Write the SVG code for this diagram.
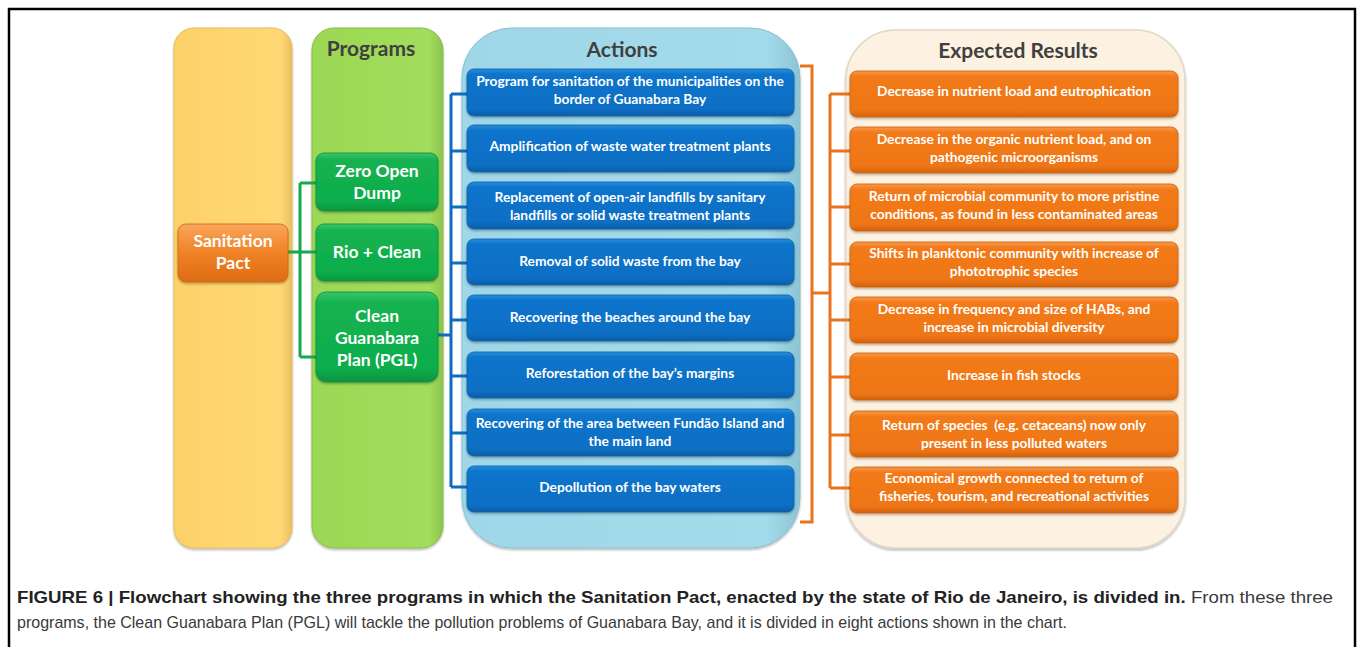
<svg xmlns="http://www.w3.org/2000/svg" width="1357" height="647" viewBox="0 0 1357 647">
<style>
.title{font-family:Lato,"Open Sans",sans-serif;font-weight:bold;font-size:21px;fill:#404040;text-anchor:middle}
.prog{font-family:Lato,"Open Sans",sans-serif;font-weight:bold;font-size:17.5px;fill:#ffffff;text-anchor:middle}
.lbl{font-family:Lato,"Open Sans",sans-serif;font-weight:bold;font-size:13.8px;fill:#ffffff;text-anchor:middle}
.cap{font-family:"Liberation Sans",Arial,sans-serif;font-size:17px;fill:#3a3a3a}
.capb{font-weight:bold;fill:#222222}
.act{fill:url(#gBlue);stroke:#0a5fa8;stroke-width:0.8}
.res{fill:url(#gOrange);stroke:#c95f10;stroke-width:0.8}
.grn{fill:url(#gGreen);stroke:#0d8f3c;stroke-width:0.8}
.cb{fill:none;stroke:#0b6cc0;stroke-width:3}
.cg{fill:none;stroke:#17a84a;stroke-width:3}
.co{fill:none;stroke:#e8731c;stroke-width:3}
</style>
<defs>
<linearGradient id="gBlue" x1="0" y1="0" x2="0" y2="1">
<stop offset="0" stop-color="#2b8ddb"/><stop offset="0.12" stop-color="#0a74cb"/><stop offset="0.85" stop-color="#0a6fc4"/><stop offset="1" stop-color="#085ca6"/>
</linearGradient>
<linearGradient id="gOrange" x1="0" y1="0" x2="0" y2="1">
<stop offset="0" stop-color="#f89a4a"/><stop offset="0.12" stop-color="#f27a1a"/><stop offset="0.85" stop-color="#ef7615"/><stop offset="1" stop-color="#d4620e"/>
</linearGradient>
<linearGradient id="gGreen" x1="0" y1="0" x2="0" y2="1">
<stop offset="0" stop-color="#3cc46a"/><stop offset="0.12" stop-color="#13b250"/><stop offset="0.85" stop-color="#10ad4c"/><stop offset="1" stop-color="#0c9440"/>
</linearGradient>
<linearGradient id="gPact" x1="0" y1="0" x2="0" y2="1">
<stop offset="0" stop-color="#f9a55a"/><stop offset="0.5" stop-color="#f08226"/><stop offset="1" stop-color="#dd6c12"/>
</linearGradient>
<linearGradient id="gYel" x1="0" y1="0" x2="1" y2="0">
<stop offset="0" stop-color="#fdd16a"/><stop offset="0.9" stop-color="#ffd874"/><stop offset="1" stop-color="#e9c062"/>
</linearGradient>
<linearGradient id="gLime" x1="0" y1="0" x2="1" y2="0">
<stop offset="0" stop-color="#9cd855"/><stop offset="0.9" stop-color="#a2dc5c"/><stop offset="1" stop-color="#8cc44c"/>
</linearGradient>
<linearGradient id="gSky" x1="0" y1="0" x2="1" y2="0">
<stop offset="0" stop-color="#9fd7e8"/><stop offset="0.9" stop-color="#a3dbeb"/><stop offset="1" stop-color="#8cc4d4"/>
</linearGradient>
<filter id="sh" x="-10%" y="-10%" width="120%" height="130%">
<feDropShadow dx="0" dy="1.5" stdDeviation="1.2" flood-color="#000" flood-opacity="0.3"/>
</filter>
</defs>
<rect x="9" y="9" width="1346" height="660" fill="#ffffff" stroke="#000000" stroke-width="2.5"/>

<g id="col-pact"><rect x="174" y="28" width="118" height="520" rx="20" fill="url(#gYel)" stroke="#e2bd5e" stroke-width="1" filter="url(#sh)"/></g>
<g id="col-programs"><rect x="312" y="28" width="131" height="520" rx="22" fill="url(#gLime)" stroke="#86bd48" stroke-width="1" filter="url(#sh)"/>
<text class="title" x="371" y="56">Programs</text></g>
<g id="col-actions"><rect x="462" y="28" width="338" height="520" rx="50" fill="url(#gSky)" stroke="#86c1d3" stroke-width="1" filter="url(#sh)"/>
<text class="title" x="622" y="57">Actions</text></g>
<g id="col-results"><rect x="846" y="30" width="339" height="518" rx="50" fill="#fdf1e1" stroke="#e3d8c8" stroke-width="1.5" filter="url(#sh)"/>
<text class="title" x="1018" y="58">Expected Results</text></g>

<g id="connectors">
<path class="cg" d="M288,252 H316 M300,183 V357 M300,183 H316 M300,357 H316"/>
<path class="cb" d="M438,335 H451 M451,94 V487 M451,94 H467 M451,151 H467 M451,207 H467 M451,263 H467 M451,320 H467 M451,376 H467 M451,433 H467 M451,487 H467"/>
<path class="co" d="M800,66 H812 V522 H800 M812,293 H830 M830,94 V488 M830,94 H850 M830,151 H850 M830,207 H850 M830,264 H850 M830,320 H850 M830,377 H850 M830,435 H850 M830,488 H850"/>
</g>

<g id="n-pact"><rect x="178" y="224" width="110" height="58" rx="8" fill="url(#gPact)" stroke="#d06610" stroke-width="0.8" filter="url(#sh)"/>
<text class="prog" x="233" y="247">Sanitation</text><text class="prog" x="233" y="269">Pact</text></g>

<g id="n-zero"><rect class="grn" x="316" y="153" width="122" height="58" rx="8" filter="url(#sh)"/>
<text class="prog" x="377" y="177">Zero Open</text><text class="prog" x="377" y="199">Dump</text></g>
<g id="n-rio"><rect class="grn" x="316" y="224" width="122" height="57" rx="8" filter="url(#sh)"/>
<text class="prog" x="377" y="258">Rio + Clean</text></g>
<g id="n-pgl"><rect class="grn" x="316" y="292" width="122" height="90" rx="10" filter="url(#sh)"/>
<text class="prog" x="377" y="322">Clean</text><text class="prog" x="377" y="344">Guanabara</text><text class="prog" x="377" y="366">Plan (PGL)</text></g>

<g id="a1"><rect class="act" x="467" y="69" width="327" height="47" rx="7" filter="url(#sh)"/>
<text class="lbl" x="630" y="86">Program for sanitation of the municipalities on the</text><text class="lbl" x="630" y="104">border of Guanabara Bay</text></g>
<g id="a2"><rect class="act" x="467" y="125" width="327" height="47" rx="7" filter="url(#sh)"/>
<text class="lbl" x="630" y="151">Amplification of waste water treatment plants</text></g>
<g id="a3"><rect class="act" x="467" y="182" width="327" height="47" rx="7" filter="url(#sh)"/>
<text class="lbl" x="630" y="202">Replacement of open-air landfills by sanitary</text><text class="lbl" x="630" y="220">landfills or solid waste treatment plants</text></g>
<g id="a4"><rect class="act" x="467" y="239" width="327" height="46" rx="7" filter="url(#sh)"/>
<text class="lbl" x="630" y="266">Removal of solid waste from the bay</text></g>
<g id="a5"><rect class="act" x="467" y="295" width="327" height="46" rx="7" filter="url(#sh)"/>
<text class="lbl" x="630" y="322">Recovering the beaches around the bay</text></g>
<g id="a6"><rect class="act" x="467" y="352" width="327" height="46" rx="7" filter="url(#sh)"/>
<text class="lbl" x="630" y="378">Reforestation of the bay’s margins</text></g>
<g id="a7"><rect class="act" x="467" y="409" width="327" height="47" rx="7" filter="url(#sh)"/>
<text class="lbl" x="630" y="428">Recovering of the area between Fundão Island and</text><text class="lbl" x="630" y="446">the main land</text></g>
<g id="a8"><rect class="act" x="467" y="466" width="327" height="46" rx="7" filter="url(#sh)"/>
<text class="lbl" x="630" y="492">Depollution of the bay waters</text></g>

<g id="r1"><rect class="res" x="850" y="71" width="328" height="46" rx="7" filter="url(#sh)"/>
<text class="lbl" x="1014" y="96">Decrease in nutrient load and eutrophication</text></g>
<g id="r2"><rect class="res" x="850" y="127" width="328" height="46" rx="7" filter="url(#sh)"/>
<text class="lbl" x="1014" y="144">Decrease in the organic nutrient load, and on</text><text class="lbl" x="1014" y="162">pathogenic microorganisms</text></g>
<g id="r3"><rect class="res" x="850" y="184" width="328" height="47" rx="7" filter="url(#sh)"/>
<text class="lbl" x="1014" y="201">Return of microbial community to more pristine</text><text class="lbl" x="1014" y="219">conditions, as found in less contaminated areas</text></g>
<g id="r4"><rect class="res" x="850" y="242" width="328" height="45" rx="7" filter="url(#sh)"/>
<text class="lbl" x="1014" y="258">Shifts in planktonic community with increase of</text><text class="lbl" x="1014" y="276">phototrophic species</text></g>
<g id="r5"><rect class="res" x="850" y="297" width="328" height="46" rx="7" filter="url(#sh)"/>
<text class="lbl" x="1014" y="314">Decrease in frequency and size of HABs, and</text><text class="lbl" x="1014" y="332">increase in microbial diversity</text></g>
<g id="r6"><rect class="res" x="850" y="353" width="328" height="47" rx="7" filter="url(#sh)"/>
<text class="lbl" x="1014" y="380">Increase in fish stocks</text></g>
<g id="r7"><rect class="res" x="850" y="411" width="328" height="46" rx="7" filter="url(#sh)"/>
<text class="lbl" x="1014" y="430" style="white-space:pre">Return of species  (e.g. cetaceans) now only</text><text class="lbl" x="1014" y="448">present in less polluted waters</text></g>
<g id="r8"><rect class="res" x="850" y="467" width="328" height="46" rx="7" filter="url(#sh)"/>
<text class="lbl" x="1014" y="483">Economical growth connected to return of</text><text class="lbl" x="1014" y="501">fisheries, tourism, and recreational activities</text></g>

<g id="caption">
<text class="cap" x="17" y="603" textLength="1316" lengthAdjust="spacingAndGlyphs"><tspan class="capb">FIGURE 6 | Flowchart showing the three programs in which the Sanitation Pact, enacted by the state of Rio de Janeiro, is divided in.</tspan> From these three</text>
<text class="cap" x="17" y="628" textLength="1050" lengthAdjust="spacingAndGlyphs">programs, the Clean Guanabara Plan (PGL) will tackle the pollution problems of Guanabara Bay, and it is divided in eight actions shown in the chart.</text>
</g>
</svg>
